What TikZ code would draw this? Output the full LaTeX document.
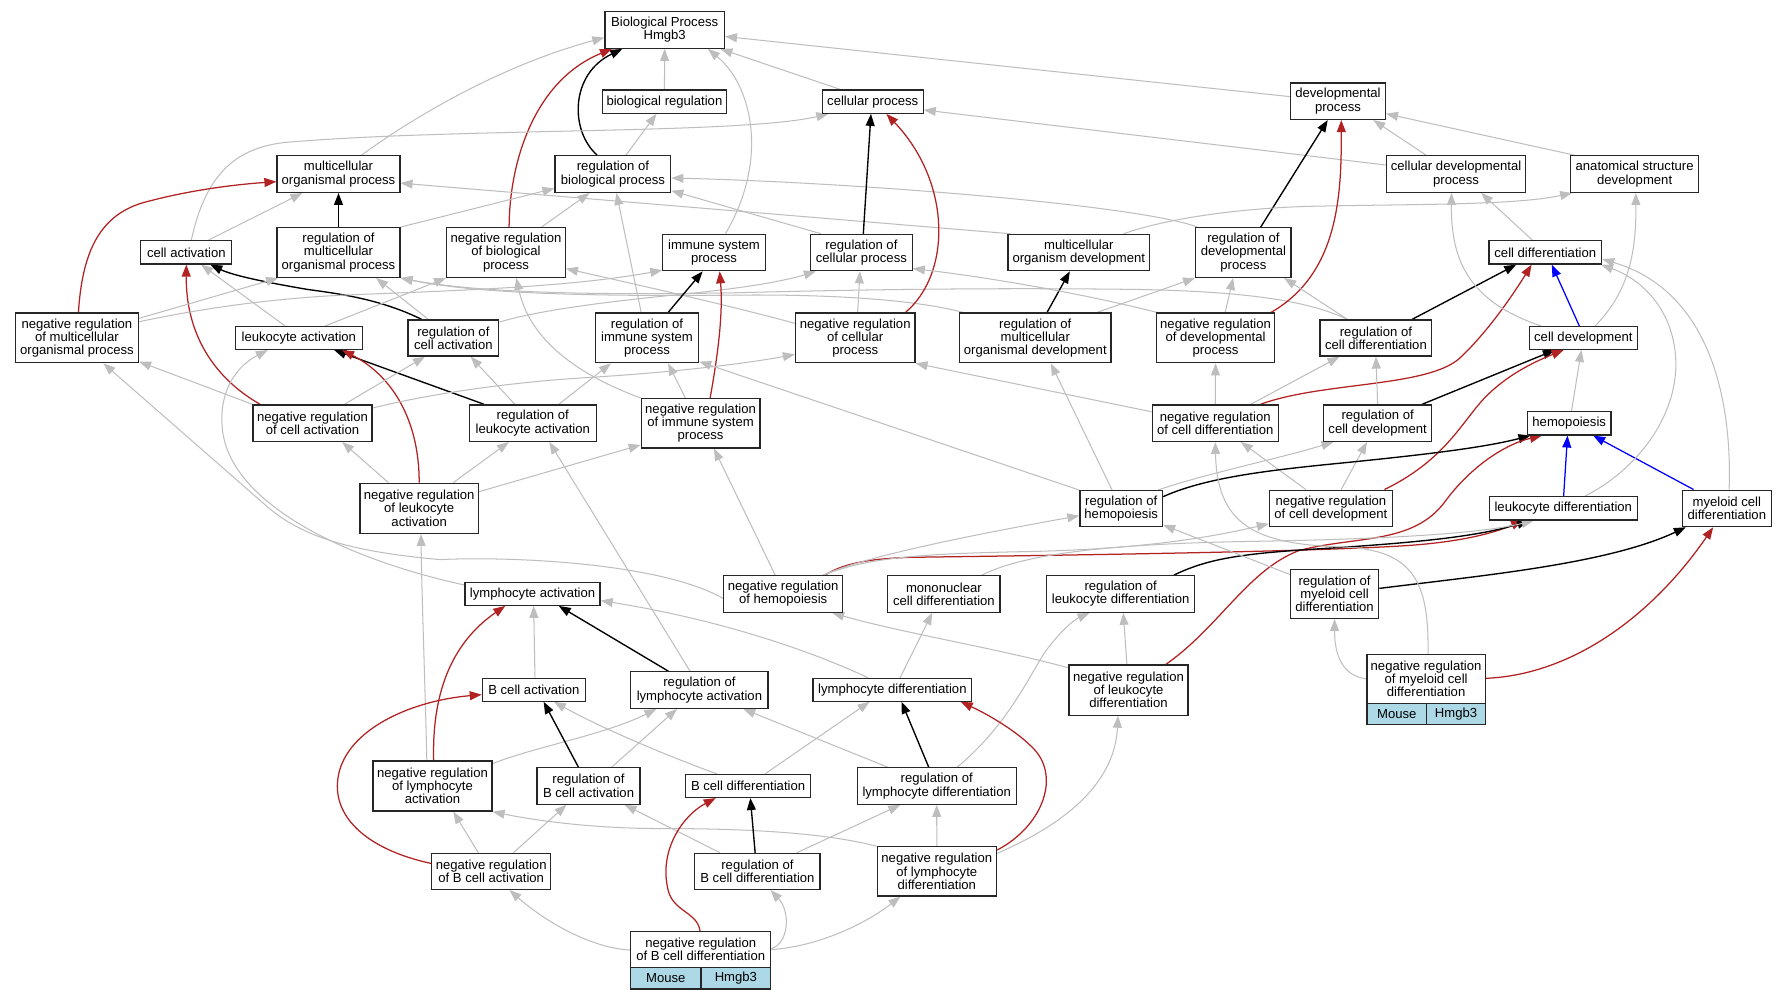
\documentclass[tikz,border=0pt]{standalone}
\usepackage{fontspec}
\setmainfont{Liberation Sans}
\usetikzlibrary{arrows.meta}
\pgfdeclarelayer{bg}
\pgfdeclarelayer{edgelayer}
\pgfsetlayers{bg,edgelayer,main}
\definecolor{edgegray}{RGB}{190,190,190}
\definecolor{negred}{RGB}{178,34,34}
\definecolor{cellblue}{RGB}{173,216,230}
\newcommand\gvfont{\fontsize{11.5}{11.6}\selectfont}
\tikzset{
 gbox/.style={draw=black!85, line width=1.1pt, inner sep=0pt, align=center, font=\gvfont, fill=white},
 cellbox/.style={gbox, fill=cellblue},
 gvtip/.style={-{Triangle[length=10.5pt,width=7.8pt]}},
 isa/.style={draw=edgegray, line width=0.9pt, gvtip},
 reg/.style={draw=black, line width=1.2pt, gvtip},
 neg/.style={draw=negred, line width=1.1pt, gvtip},
 part/.style={draw=blue, line width=1.1pt, gvtip},
}
\begin{document}
\begin{tikzpicture}[x=1pt,y=-1pt]
\begin{pgfonlayer}{bg}
\fill[white] (0,0) rectangle (1568,877.5);
\end{pgfonlayer}
\useasboundingbox (0,0) rectangle (1568,877.5);
% nodes
\node[gbox,minimum width=104.8pt,minimum height=32.2pt] (bp) at (583.2,26.3) {Biological Process\\Hmgb3};
\node[gbox,minimum width=109pt,minimum height=20.4pt] (br) at (583,89.2) {biological regulation};
\node[gbox,minimum width=88.4pt,minimum height=20.4pt] (cp) at (765.8,89.2) {cellular process};
\node[gbox,minimum width=83.3pt,minimum height=32pt] (dp) at (1174,88.8) {developmental\\process};
\node[gbox,minimum width=107.9pt,minimum height=32.2pt] (mop) at (297,152.7) {multicellular\\organismal process};
\node[gbox,minimum width=101.5pt,minimum height=32.2pt] (rbp) at (537.8,152.7) {regulation of\\biological process};
\node[gbox,minimum width=121.9pt,minimum height=32.2pt] (cdp) at (1277.6,152.7) {cellular developmental\\process};
\node[gbox,minimum width=112.6pt,minimum height=32.2pt] (asd) at (1434.3,152.7) {anatomical structure\\development};
\node[gbox,minimum width=79.9pt,minimum height=20.5pt] (ca) at (163.5,221.4) {cell activation};
\node[gbox,minimum width=107.9pt,minimum height=43.6pt] (rmop) at (297,221.6) {regulation of\\multicellular\\organismal process};
\node[gbox,minimum width=104.1pt,minimum height=43.6pt] (nrbp) at (444,221.6) {negative regulation\\of biological\\process};
\node[gbox,minimum width=90.6pt,minimum height=31.9pt] (isp) at (626.5,221.6) {immune system\\process};
\node[gbox,minimum width=89.4pt,minimum height=31.9pt] (rcp) at (755.8,221.6) {regulation of\\cellular process};
\node[gbox,minimum width=124.3pt,minimum height=31.9pt] (mod) at (946.6,221.6) {multicellular\\organism development};
\node[gbox,minimum width=83.7pt,minimum height=43.6pt] (rdp) at (1091,221.6) {regulation of\\developmental\\process};
\node[gbox,minimum width=98.8pt,minimum height=20.5pt] (cd) at (1355.9,221.4) {cell differentiation};
\node[gbox,minimum width=108pt,minimum height=43.5pt] (nrmop) at (67.5,296.5) {negative regulation\\of multicellular\\organismal process};
\node[gbox,minimum width=111.5pt,minimum height=20pt] (la) at (262.2,296.6) {leukocyte activation};
\node[gbox,minimum width=79.6pt,minimum height=31.6pt] (rca) at (397.8,296.6) {regulation of\\cell activation};
\node[gbox,minimum width=90.6pt,minimum height=43.5pt] (rimsp) at (567.7,296.5) {regulation of\\immune system\\process};
\node[gbox,minimum width=104.8pt,minimum height=43.5pt] (ncp) at (750.4,296.5) {negative regulation\\of cellular\\process};
\node[gbox,minimum width=132.7pt,minimum height=43.5pt] (rmod) at (908.4,296.5) {regulation of\\multicellular\\organismal development};
\node[gbox,minimum width=103.2pt,minimum height=43.5pt] (nrdp) at (1066.6,296.5) {negative regulation\\of developmental\\process};
\node[gbox,minimum width=98pt,minimum height=31.6pt] (rcd) at (1207.3,296.6) {regulation of\\cell differentiation};
\node[gbox,minimum width=94.6pt,minimum height=20pt] (cdev) at (1389.3,296.6) {cell development};
\node[gbox,minimum width=104.4pt,minimum height=32pt] (nrca) at (274.2,371.3) {negative regulation\\of cell activation};
\node[gbox,minimum width=111.5pt,minimum height=32pt] (rlact) at (467.5,371.3) {regulation of\\leukocyte activation};
\node[gbox,minimum width=104.1pt,minimum height=43.3pt] (nrimsp) at (614.7,371.4) {negative regulation\\of immune system\\process};
\node[gbox,minimum width=110.6pt,minimum height=32pt] (ncd) at (1066.3,371.3) {negative regulation\\of cell differentiation};
\node[gbox,minimum width=95pt,minimum height=32pt] (rcdev) at (1208.8,371.3) {regulation of\\cell development};
\node[gbox,minimum width=73.2pt,minimum height=20.5pt] (hemo) at (1376.9,371.4) {hemopoiesis};
\node[gbox,minimum width=104pt,minimum height=44pt] (nlact) at (367.8,446) {negative regulation\\of leukocyte\\activation};
\node[gbox,minimum width=72.5pt,minimum height=31.5pt] (rhemo) at (983.8,446.3) {regulation of\\hemopoiesis};
\node[gbox,minimum width=108pt,minimum height=32pt] (nrcdev) at (1167.8,446.1) {negative regulation\\of cell development};
\node[gbox,minimum width=129.8pt,minimum height=20.5pt] (ld) at (1371.7,446) {leukocyte differentiation};
\node[gbox,minimum width=77.8pt,minimum height=32pt] (mcd) at (1515.2,446.1) {myeloid cell\\differentiation};
\node[gbox,minimum width=118.5pt,minimum height=20pt] (lyma) at (467.3,521.1) {lymphocyte activation};
\node[gbox,minimum width=104.7pt,minimum height=32pt] (nrhemo) at (687.2,521.2) {negative regulation\\of hemopoiesis};
\node[gbox,minimum width=98.5pt,minimum height=32pt] (mncd) at (828.2,521.2) {mononuclear\\cell differentiation};
\node[gbox,minimum width=130pt,minimum height=32pt] (rld) at (983.3,521.2) {regulation of\\leukocyte differentiation};
\node[gbox,minimum width=77.4pt,minimum height=43pt] (rmcd) at (1171,521.1) {regulation of\\myeloid cell\\differentiation};
\node[gbox,minimum width=90.4pt,minimum height=20pt] (Bca) at (468.4,605.2) {B cell activation};
\node[gbox,minimum width=120.5pt,minimum height=32pt] (rla) at (613.7,605.5) {regulation of\\lymphocyte activation};
\node[gbox,minimum width=139.5pt,minimum height=20pt] (lymd) at (783,605.2) {lymphocyte differentiation};
\node[gbox,minimum width=104.4pt,minimum height=44pt] (nrld) at (990.2,605.5) {negative regulation\\of leukocyte\\differentiation};
\node[gbox,minimum width=103.8pt,minimum height=43pt] (nrmcd) at (1251.3,595.7) {negative regulation\\of myeloid cell\\differentiation};
\node[cellbox,minimum width=52.5pt,minimum height=18.7pt] (nrmcdA) at (1225.65,626.55) {Mouse};
\node[cellbox,minimum width=51.3pt,minimum height=18.7pt] (nrmcdB) at (1277.55,626.55) {Hmgb3};
\node[gbox,minimum width=104.4pt,minimum height=44pt] (nrla) at (379.5,689.7) {negative regulation\\of lymphocyte\\activation};
\node[gbox,minimum width=90.4pt,minimum height=32pt] (rbca) at (516.4,689.6) {regulation of\\B cell activation};
\node[gbox,minimum width=110pt,minimum height=20.2pt] (Bcd) at (656.4,689.6) {B cell differentiation};
\node[gbox,minimum width=139.5pt,minimum height=32pt] (rlymd) at (821.9,689.7) {regulation of\\lymphocyte differentiation};
\node[gbox,minimum width=104.4pt,minimum height=31.6pt] (nrbca) at (431,764.6) {negative regulation\\of B cell activation};
\node[gbox,minimum width=110pt,minimum height=31.6pt] (rbcd) at (664.6,764.6) {regulation of\\B cell differentiation};
\node[gbox,minimum width=104.6pt,minimum height=43.2pt] (nrlymd) at (822,764.6) {negative regulation\\of lymphocyte\\differentiation};
\node[gbox,minimum width=122.9pt,minimum height=31.6pt] (nrbcd) at (614.85,833.3) {negative regulation\\of B cell differentiation};
\node[cellbox,minimum width=61.7pt,minimum height=18.7pt] (nrbcdA) at (584.25,858.45) {Mouse};
\node[cellbox,minimum width=61.2pt,minimum height=18.7pt] (nrbcdB) at (645.7,858.45) {Hmgb3};
% edges
\begin{pgfonlayer}{edgelayer}
\draw[isa] (br.north) -- (bp.south);
\draw[isa] ([xshift=-28.5pt]cp.north) -- ([xshift=49pt]bp.south);
\draw[isa] ([yshift=4pt]dp.west) -- ([yshift=-5.7pt]bp.east);
\draw[isa] ([xshift=20.4pt]mop.north) .. controls (350,112) and (430,60) .. ([yshift=-6.7pt]bp.west);
\draw[reg] ([xshift=-13.9pt]rbp.north) .. controls (500,115) and (500,65) .. ([xshift=-37.2pt]bp.south);
\draw[neg] ([xshift=2.7pt]nrbp.north) .. controls (447,140) and (470,70) .. ([xshift=-46.2pt]bp.south);
\draw[isa] ([xshift=10pt]isp.north) .. controls (675,140) and (660,75) .. ([xshift=38pt]bp.south);
\draw[isa] ([xshift=11.5pt]rbp.north) -- ([xshift=-7pt]br.south);
\draw[isa] ([xshift=4.4pt]ca.north) .. controls (180,155) and (205,130) .. (250,125) .. controls (400,112) and (650,118) .. ([xshift=-39pt]cp.south);
\draw[isa] ([yshift=7.9pt]cdp.west) -- ([yshift=-7.3pt]cp.east);
\draw[isa] ([xshift=19.5pt]ca.north) -- ([xshift=-31.7pt]mop.south);
\draw[neg] ([xshift=1.3pt]nrmop.north) .. controls (72,225) and (85,190) .. (125,178) .. controls (165,167) and (205,162) .. ([yshift=-6.7pt]mop.west);
\draw[reg] (rmop.north) -- (mop.south);
\draw[isa] ([xshift=-60pt]mod.north) -- ([yshift=-8pt]mop.east);
\draw[isa] (rmop.north east) -- ([yshift=-12.6pt]rbp.west);
\draw[isa] ([xshift=31.2pt]nrbp.north) -- ([xshift=-20.6pt]rbp.south);
\draw[isa] ([xshift=-5.1pt]rimsp.north) -- ([xshift=3.1pt]rbp.south);
\draw[isa] ([xshift=-35.4pt]rcp.north) -- ([yshift=2pt]rbp.south east);
\draw[isa] ([xshift=2pt]rdp.north west) .. controls (1000,180) and (750,160) .. ([yshift=-3.5pt]rbp.east);
\draw[isa] ([xshift=-26.4pt]cdp.north) -- ([xshift=31pt]dp.south);
\draw[isa] ([xshift=-53.3pt]asd.north) -- ([yshift=-11pt]dp.east);
\draw[reg] ([xshift=15.2pt]rdp.north) -- ([xshift=-9pt]dp.south);
\draw[isa] ([xshift=-11.4pt]cd.north) -- ([xshift=22pt]cdp.south);
\draw[isa] ([xshift=39.2pt]mod.north) .. controls (1020,193) and (1080,183) .. (1150,181) .. controls (1250,179) and (1330,180) .. ([xshift=2pt]asd.south west);
\draw[isa] ([xshift=-12pt]la.north) -- ([xshift=13pt]ca.south);
\draw[reg] ([xshift=-27.8pt]rca.north) .. controls (335,263) and (300,258) .. (270,254) .. controls (235,248) and (205,242) .. ([xshift=21pt]ca.south);
\draw[neg] ([xshift=-46pt]nrca.north) .. controls (185,330) and (163,290) .. (ca.south);
\draw[isa] ([yshift=17.2pt]nrmop.east) -- ([xshift=-53pt]rmop.south);
\draw[isa] ([yshift=14.2pt]nrmop.east) .. controls (180,270) and (240,262) .. (300,259) .. controls (400,255) and (500,252) .. ([xshift=0.5pt,yshift=1pt]isp.south west);
\draw[isa] ([xshift=23pt]la.north) -- (nrbp.south west);
\draw[isa] ([xshift=-22pt]rca.north) -- ([xshift=33pt]rmop.south);
\draw[isa] ([xshift=-63pt]rmod.north) .. controls (800,262) and (720,258) .. (640,259) .. controls (520,260) and (420,258) .. (rmop.south east);
\draw[isa] ([xshift=-25pt]rcd.north) .. controls (1150,265) and (1100,256) .. (1000,254) .. controls (850,252) and (720,255) .. (640,257) .. controls (520,259) and (420,257) .. (rmop.south east);
\draw[isa] ([yshift=12.8pt]ncp.west) .. controls (640,268) and (560,250) .. ([yshift=-14.1pt]nrbp.east);
\draw[isa] ([yshift=14pt]rca.east) .. controls (480,270) and (560,262) .. (600,258) .. controls (660,252) and (690,246) .. ([xshift=-40pt]rcp.south);
\draw[reg] ([xshift=18.5pt]rimsp.north) -- ([xshift=-10pt]isp.south);
\draw[neg] ([xshift=8.4pt]nrimsp.north) .. controls (632,300) and (634,270) .. ([xshift=5pt]isp.south);
\draw[isa] ([xshift=-13.4pt]nrimsp.north) -- ([xshift=18.5pt]rimsp.south);
\draw[isa] (nrimsp.north west) .. controls (510,330) and (465,300) .. ([xshift=9pt]nrbp.south);
\draw[reg] ([xshift=1.7pt]rcp.north) -- ([xshift=-1.6pt]cp.south);
\draw[isa] ([xshift=2.1pt]ncp.north) -- ([xshift=-1.2pt]rcp.south);
\draw[neg] ([xshift=44pt]ncp.north) .. controls (835,240) and (835,160) .. ([xshift=12pt]cp.south);
\draw[reg] ([xshift=10.3pt]rmod.north) -- ([xshift=-7.9pt]mod.south);
\draw[isa] ([xshift=1pt]nrdp.north west) .. controls (960,260) and (880,245) .. ([yshift=2.5pt]rcp.south east);
\draw[isa] ([xshift=53.9pt]rmod.north) -- (rdp.south west);
\draw[neg] ([xshift=48.5pt]nrdp.north) .. controls (1175,240) and (1177,170) .. ([xshift=2.9pt]dp.south);
\draw[isa] ([xshift=8.4pt]nrdp.north) -- ([xshift=-9pt]rdp.south);
\draw[isa] ([xshift=-25pt]rcd.north) -- ([xshift=35.8pt]rdp.south);
\draw[reg] ([xshift=31.7pt]rcd.north) -- ([xshift=-25.5pt]cd.south);
\draw[neg] ([xshift=39.7pt]ncd.north) .. controls (1160,335) and (1250,340) .. (1280,315) .. controls (1305,292) and (1328,258) .. ([xshift=-12pt]cd.south);
\draw[isa] ([xshift=31.2pt]ncd.north) -- ([xshift=-32pt]rcd.south);
\draw[isa] (ncd.north) -- (nrdp.south);
\draw[isa] ([yshift=10pt]ncd.west) -- (ncp.south east);
\draw[reg] ([xshift=39pt]rcdev.north) -- ([xshift=-25pt]cdev.south);
\draw[isa] (rcdev.north) -- (rcd.south);
\draw[isa] ([xshift=-37pt]cdev.north) .. controls (1290,265) and (1273,230) .. ([xshift=-4pt]cdp.south);
\draw[part] ([xshift=-3.5pt]cdev.north) -- ([xshift=5.7pt]cd.south);
\draw[isa] ([xshift=10.3pt]cdev.north) .. controls (1425,260) and (1436,230) .. ([xshift=1pt]asd.south);
\draw[isa] ([xshift=2pt]hemo.north) -- ([xshift=-1.7pt]cdev.south);
\draw[neg] ([xshift=47pt]nrcdev.north) .. controls (1265,405) and (1280,375) .. (1300,352) .. controls (1320,330) and (1345,318) .. ([xshift=-17.3pt]cdev.south);
\draw[isa] ([xshift=9pt]nrcdev.north) -- ([xshift=-9.4pt]rcdev.south);
\draw[isa] ([xshift=-22pt]nrcdev.north) -- ([xshift=22.5pt]ncd.south);
\draw[reg] ([yshift=10.5pt]rhemo.east) .. controls (1060,418) and (1120,412) .. (1180,406) .. controls (1260,398) and (1305,392) .. ([xshift=-34pt]hemo.south);
\draw[isa] ([xshift=32pt]rhemo.north) .. controls (1060,415) and (1120,403) .. ([xshift=-38.8pt]rcdev.south);
\draw[isa] (rhemo.north west) -- ([yshift=1.5pt]rimsp.south east);
\draw[isa] ([xshift=-8pt]rhemo.north) -- ([xshift=13.6pt]rmod.south);
\draw[part] ([xshift=0.3pt]ld.north) -- ([xshift=-1.5pt]hemo.south);
\draw[part] ([xshift=-29.2pt]mcd.north) -- ([xshift=21pt]hemo.south);
\draw[isa] ([xshift=19.3pt]ld.north) .. controls (1440,410) and (1475,360) .. (1470,310) .. controls (1466,270) and (1440,245) .. ([xshift=-1pt]cd.south east);
\draw[isa] ([xshift=2pt]mcd.north) .. controls (1520,350) and (1500,255) .. ([yshift=-6pt]cd.east);
\draw[neg] ([xshift=36.8pt]nrhemo.north) .. controls (740,494) and (765,490) .. (800,489) .. controls (950,487) and (1150,484) .. (1230,479) .. controls (1280,476) and (1310,468) .. ([xshift=-35.3pt]ld.south);
\draw[neg] ([xshift=32.8pt]nrld.north) .. controls (1070,550) and (1095,500) .. (1140,483) .. controls (1190,470) and (1240,478) .. (1268,440) .. controls (1290,410) and (1320,390) .. ([xshift=-24pt]hemo.south);
\draw[reg] ([xshift=46.7pt]rld.north) .. controls (1060,490) and (1090,486) .. (1150,482) .. controls (1250,476) and (1300,470) .. ([xshift=-30pt]ld.south);
\draw[reg] ([yshift=4.8pt]rmcd.east) .. controls (1300,505) and (1410,495) .. ([xshift=-36pt]mcd.south);
\draw[isa] ([yshift=-5pt]rmcd.north west) -- ([yshift=2pt]rhemo.south east);
\draw[neg] ([yshift=0.5pt]nrmcd.east) .. controls (1380,592) and (1450,540) .. ([xshift=-12pt]mcd.south);
\draw[isa] (nrmcd.west) .. controls (1178,593) and (1171,575) .. (rmcd.south);
\draw[isa] ([xshift=1.7pt]nrmcd.north) .. controls (1254,510) and (1240,483) .. (1180,480) .. controls (1100,478) and (1068,460) .. (ncd.south);
\draw[isa] ([xshift=35pt]nrhemo.north) .. controls (760,488) and (850,470) .. ([yshift=-6.2pt]rhemo.west);
\draw[isa] ([xshift=35pt]nrhemo.north) .. controls (760,490) and (800,486) .. (900,484) .. controls (1000,482) and (1060,472) .. ([yshift=-13.5pt]nrcdev.west);
\draw[isa] ([xshift=-7pt]nrhemo.north) -- ([xshift=11.8pt]nrimsp.south);
\draw[isa] ([yshift=-3.8pt]nrhemo.west) .. controls (580,494) and (450,488) .. (386,491) .. controls (320,485) and (270,475) .. (235,445) -- ([xshift=23.2pt]nrmop.south);
\draw[isa] ([xshift=-1.4pt]nrld.north) -- ([xshift=2.3pt]rld.south);
\draw[isa] ([yshift=19.5pt]nrld.west) .. controls (880,570) and (790,555) .. ([xshift=43pt]nrhemo.south);
\draw[isa] ([xshift=6.8pt]lymd.north) -- ([xshift=-10.2pt]mncd.south);
\draw[isa] ([xshift=33.3pt]mncd.north) .. controls (900,485) and (980,477) .. (1100,475) .. controls (1220,473) and (1300,468) .. ([xshift=-26pt]ld.south);
\draw[isa] ([xshift=-21.4pt]lymd.north) .. controls (720,575) and (640,545) .. ([yshift=-5.9pt]lyma.east);
\draw[reg] ([xshift=-7pt]rlymd.north) -- ([xshift=8pt]lymd.south);
\draw[isa] ([xshift=-43pt]rlymd.north) -- ([xshift=38.5pt]rla.south);
\draw[isa] ([xshift=18pt]rlymd.north) .. controls (880,640) and (900,600) .. (915,575) .. controls (925,560) and (940,545) .. ([xshift=-27.3pt]rld.south);
\draw[neg] ([yshift=18.7pt]nrlymd.east) .. controls (915,725) and (932,680) .. (905,655) .. controls (890,640) and (865,626) .. ([xshift=60pt]lymd.south);
\draw[isa] (nrlymd.north) -- (rlymd.south);
\draw[isa] ([yshift=15.8pt]nrlymd.east) .. controls (930,725) and (978,690) .. ([xshift=-9.2pt]nrld.south);
\draw[isa] (nrlymd.north west) .. controls (720,730) and (650,727) .. (580,727) .. controls (520,727) and (470,720) .. (nrla.south east);
\draw[isa] ([yshift=7.8pt]lyma.west) .. controls (300,490) and (200,440) .. (195,375) .. controls (192,340) and (210,320) .. ([xshift=-27.2pt]la.south);
\draw[isa] ([xshift=1pt]Bca.north) -- ([xshift=1pt]lyma.south);
\draw[reg] ([xshift=-27.2pt]rla.north) -- ([xshift=23pt]lyma.south);
\draw[neg] ([xshift=1pt]nrla.north) .. controls (379,610) and (395,565) .. ([xshift=-24pt]lyma.south);
\draw[isa] ([xshift=-5pt]nrla.north) .. controls (373,600) and (370,520) .. ([xshift=1.6pt]nlact.south);
\draw[isa] ([yshift=19.7pt]nrla.east) .. controls (470,655) and (530,645) .. ([xshift=-37.7pt]rla.south);
\draw[isa] ([xshift=-8.2pt]rla.north) -- ([xshift=14.5pt]rlact.south);
\draw[reg] ([xshift=-8.9pt]rbca.north) -- ([xshift=8.6pt]Bca.south);
\draw[isa] ([xshift=20.4pt]rbca.north) -- ([xshift=-19.7pt]rla.south);
\draw[isa] ([xshift=-27.5pt]Bcd.north) .. controls (590,665) and (530,640) .. ([xshift=17.6pt]Bca.south);
\draw[isa] ([xshift=15pt]Bcd.north) -- ([xshift=-20pt]lymd.south);
\draw[reg] ([xshift=-2pt]rbcd.north) -- ([xshift=2pt]Bcd.south);
\draw[isa] ([xshift=-32.8pt]rbcd.north) -- ([xshift=31.6pt]rbca.south);
\draw[isa] ([xshift=34.5pt]rbcd.north) -- ([xshift=-32pt]rlymd.south);
\draw[neg] ([yshift=7pt]nrbca.west) .. controls (320,745) and (290,715) .. (297,680) .. controls (305,640) and (360,615) .. ([yshift=-4.3pt]Bca.west);
\draw[isa] ([xshift=-11.3pt]nrbca.north) -- ([xshift=18.3pt]nrla.south);
\draw[isa] ([xshift=19.5pt]nrbca.north) -- ([xshift=-19.4pt]rbca.south);
\draw[neg] ([xshift=-0.6pt]nrbcd.north) .. controls (612,800) and (590,800) .. (586,780) .. controls (578,745) and (600,715) .. ([xshift=-28.4pt]Bcd.south);
\draw[isa] ([yshift=-0.3pt]nrbcd.west) .. controls (520,832) and (480,810) .. ([xshift=16pt]nrbca.south);
\draw[isa] ([yshift=1pt]nrbcd.east) .. controls (692,828) and (694,800) .. ([xshift=11.4pt]rbcd.south);
\draw[isa] (nrbcd.east) .. controls (720,830) and (760,810) .. ([xshift=-32pt]nrlymd.south);
\draw[reg] ([xshift=-42.7pt]rlact.north) -- ([xshift=31pt]la.south);
\draw[isa] ([xshift=-15.8pt]rlact.north) -- ([xshift=15.2pt]rca.south);
\draw[isa] ([xshift=22.8pt]rlact.north) -- ([xshift=-31.7pt]rimsp.south);
\draw[neg] (nlact.north) .. controls (368,370) and (345,330) .. ([xshift=38pt]la.south);
\draw[isa] ([xshift=-27pt]nlact.north) -- ([xshift=26pt]nrca.south);
\draw[isa] ([xshift=30pt]nlact.north) -- ([xshift=-21pt]rlact.south);
\draw[isa] ([yshift=14.6pt]nlact.east) -- ([yshift=-19pt]nrimsp.west);
\draw[isa] ([xshift=28pt]nrca.north) -- ([xshift=-25pt]rca.south);
\draw[isa] ([yshift=13.3pt]nrca.east) .. controls (380,345) and (450,335) .. (520,331) .. controls (600,326) and (660,318) .. ([yshift=-14.5pt]ncp.west);
\draw[isa] (nrca.north west) -- ([yshift=1.5pt]nrmop.south east);
\end{pgfonlayer}
\end{tikzpicture}
\end{document}
